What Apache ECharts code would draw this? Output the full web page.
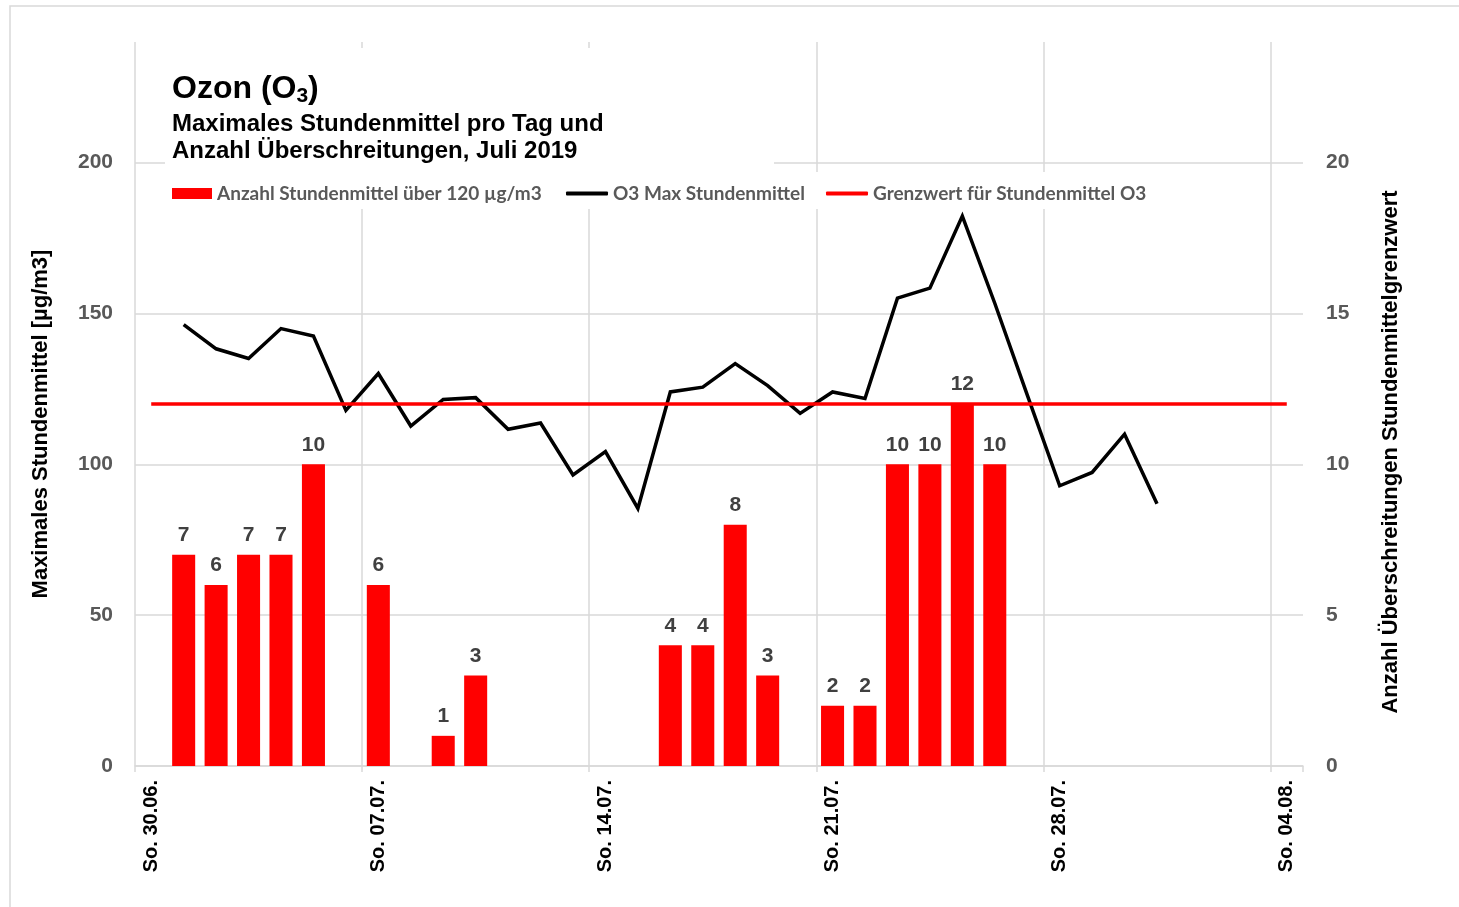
<!DOCTYPE html>
<html>
<head>
<meta charset="utf-8">
<script src="https://cdn.jsdelivr.net/npm/echarts@6/dist/echarts.min.js"></script>
<style>
  html, body { margin: 0; padding: 0; background: #fff; }
  #chart { width: 1459px; height: 907px; }
</style>
</head>
<body>
<div id="chart"></div>
<script>
// Tage 30.06. bis 04.08.
var days = ['30.06.', '01.07.', '02.07.', '03.07.', '04.07.', '05.07.', '06.07.',
  '07.07.', '08.07.', '09.07.', '10.07.', '11.07.', '12.07.', '13.07.',
  '14.07.', '15.07.', '16.07.', '17.07.', '18.07.', '19.07.', '20.07.',
  '21.07.', '22.07.', '23.07.', '24.07.', '25.07.', '26.07.', '27.07.',
  '28.07.', '29.07.', '30.07.', '31.07.', '01.08.', '02.08.', '03.08.', '04.08.'];

// Anzahl Stundenmittel > 120 µg/m3 (rechte Achse)
var anzahl = [null, 7, 6, 7, 7, 10, null,
  6, null, 1, 3, null, null, null,
  null, null, 4, 4, 8, 3, null,
  2, 2, 10, 10, 12, 10, null,
  null, null, null, null, null, null, null, null];

// O3 max. Stundenmittel (linke Achse)
var o3Max = [null, 146.3, 138.3, 135.1, 145.0, 142.5, 117.9,
  130.1, 112.7, 121.5, 122.1, 111.6, 113.7, 96.5,
  104.2, 85.4, 124.0, 125.6, 133.4, 126.1, 116.9,
  124.0, 121.8, 155.1, 158.4, 182.3, 153.4, 123.0,
  92.9, 97.3, 110.0, 86.9, null, null, null, null];

// Grenzwert
var grenzwert = [120, 120, 120, 120, 120, 120, 120,
  120, 120, 120, 120, 120, 120, 120,
  120, 120, 120, 120, 120, 120, 120,
  120, 120, 120, 120, 120, 120, 120,
  120, 120, 120, 120, 120, 120, 120, 120];

var leftTicks = [0, 50, 100, 150, 200];
var rightTicks = [0, 5, 10, 15, 20];

var chart = echarts.init(document.getElementById('chart'));

var arial = 'Liberation Sans, Arial, sans-serif';
var calibri = 'Lato, Open Sans, sans-serif';
var gridCol = '#d9d9d9';

var legendText = { color: '#595959', fontSize: 19, fontWeight: 'bold', fontFamily: calibri };

var option = {
  backgroundColor: '#fff',
  animation: false,
  title: {
    z: 10,
    left: 166,
    top: 71,
    padding: [0, 6, 0, 6],
    itemGap: 6,
    text: '{a|Ozon (O}{s|3}{a|)}',
    textStyle: {
      rich: {
        a: { fontSize: 32, fontWeight: 'bold', fontFamily: arial, color: '#000', lineHeight: 36 },
        s: { fontSize: 21, fontWeight: 'bold', fontFamily: arial, color: '#000', lineHeight: 36, verticalAlign: 'bottom' }
      }
    },
    subtext: 'Maximales Stundenmittel pro Tag und\nAnzahl Überschreitungen, Juli 2019',
    subtextStyle: { fontSize: 24, fontWeight: 'bold', fontFamily: arial, color: '#000', lineHeight: 27 }
  },
  graphic: [
    { type: 'rect', z: -1, shape: { x: 10, y: 6, width: 1500, height: 1000 },
      style: { fill: 'none', stroke: gridCol, lineWidth: 1.5 }, silent: true },
    { type: 'rect', z: 1, shape: { x: 165, y: 48, width: 609, height: 124 },
      style: { fill: '#fff' }, silent: true },
    { type: 'rect', z: 1, shape: { x: 165, y: 172, width: 995, height: 37 },
      style: { fill: '#fff' }, silent: true }
  ],
  legend: [
    { z: 10, data: ['Anzahl Stundenmittel über 120 µg/m3'], left: 167, top: 179,
      icon: 'rect', itemWidth: 40, itemHeight: 11, textStyle: legendText },
    { z: 10, data: ['O3 Max Stundenmittel'], left: 561, top: 179,
      icon: 'roundRect', itemWidth: 42, itemHeight: 4, textStyle: legendText },
    { z: 10, data: ['Grenzwert für Stundenmittel O3'], left: 821, top: 179,
      icon: 'roundRect', itemWidth: 42, itemHeight: 4, textStyle: legendText }
  ],
  grid: { left: 135, right: 156, top: 42, bottom: 141, containLabel: false },
  xAxis: {
    type: 'category',
    data: days,
    boundaryGap: true,
    axisLine: { show: true, lineStyle: { color: gridCol, width: 1.5 } },
    axisTick: { show: true, interval: 6, length: 6, lineStyle: { color: gridCol, width: 1.5 } },
    axisLabel: {
      interval: 6,
      rotate: 90,
      margin: 14,
      color: '#000',
      fontSize: 20,
      fontWeight: 'bold',
      fontFamily: arial,
      formatter: function (v) { return 'So. ' + v; }
    },
    splitLine: { show: true, interval: 6, showMaxLine: false, lineStyle: { color: gridCol, width: 1.5 } }
  },
  yAxis: [
    {
      type: 'value',
      min: 0, max: 240, interval: 50,
      name: 'Maximales Stundenmittel [µg/m3]',
      nameLocation: 'middle',
      nameGap: 83,
      nameTextStyle: { color: '#000', fontSize: 22, fontWeight: 'bold', fontFamily: arial, padding: [0, 40, 0, 0] },
      axisLine: { show: false },
      axisTick: { show: false },
      axisLabel: {
        margin: 22, color: '#595959', fontSize: 21, fontWeight: 'bold', fontFamily: arial,
        showMaxLabel: false,
        formatter: function (v) { return leftTicks.indexOf(v) >= 0 ? String(v) : ''; }
      },
      splitLine: { show: true, showMaxLine: false, lineStyle: { color: gridCol, width: 1.5 } }
    },
    {
      type: 'value',
      min: 0, max: 24, interval: 5,
      name: 'Anzahl Überschreitungen Stundenmittelgrenzwert',
      nameLocation: 'middle',
      nameGap: 77,
      nameRotate: 90,
      nameTextStyle: { color: '#000', fontSize: 22, fontWeight: 'bold', fontFamily: arial, padding: [0, 96, 0, 0] },
      axisLine: { show: false },
      axisTick: { show: false },
      axisLabel: {
        margin: 23, color: '#595959', fontSize: 21, fontWeight: 'bold', fontFamily: arial,
        showMaxLabel: false,
        formatter: function (v) { return rightTicks.indexOf(v) >= 0 ? String(v) : ''; }
      },
      splitLine: { show: false }
    }
  ],
  series: [
    {
      name: 'Anzahl Stundenmittel über 120 µg/m3',
      type: 'bar',
      yAxisIndex: 1,
      data: anzahl,
      barWidth: '71%',
      itemStyle: { color: '#ff0000' },
      label: {
        show: true, position: 'top', distance: 9,
        color: '#404040', fontSize: 21, fontWeight: 'bold', fontFamily: arial
      }
    },
    {
      name: 'O3 Max Stundenmittel',
      type: 'line',
      yAxisIndex: 0,
      data: o3Max,
      symbol: 'none',
      z: 4,
      lineStyle: { color: '#000', width: 3.5, join: 'miter' },
      itemStyle: { color: '#000' }
    },
    {
      name: 'Grenzwert für Stundenmittel O3',
      type: 'line',
      yAxisIndex: 0,
      data: grenzwert,
      symbol: 'none',
      z: 5,
      lineStyle: { color: '#ff0000', width: 3.5 },
      itemStyle: { color: '#ff0000' }
    }
  ]
};

chart.setOption(option);
</script>
</body>
</html>
